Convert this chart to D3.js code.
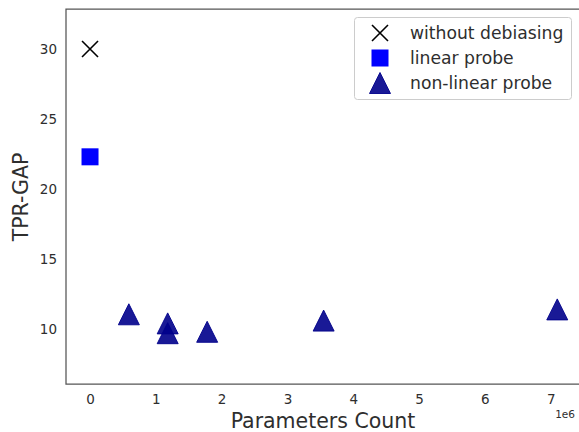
<!DOCTYPE html>
<html lang="en">
<head>
    <meta charset="UTF-8">
    <title>TPR-GAP vs Parameters Count</title>
    <style>
        body { margin: 0; padding: 0; background: #fff; }
        svg { display: block; font-family: "DejaVu Sans", sans-serif; }
    </style>
</head>
<body>
    <svg width="579" height="432"></svg>
    <script src="https://d3js.org/d3.v7.min.js"></script>
    <script>
        // data
        const baseParams = [0];
        const baseGap = [30.0];

        const linearParams = [0];
        const linearGap = [22.3];

        const mlpParams = [0.59e6, 1.18e6, 1.18e6, 1.78e6, 3.55e6, 7.1e6];
        const mlpGap = [11.05, 10.4, 9.7, 9.8, 10.6, 11.4];

        const xTicks = [0, 1e6, 2e6, 3e6, 4e6, 5e6, 6e6, 7e6];
        const yTicks = [10, 15, 20, 25, 30];

        const svg = d3.select("svg");
        const margin = { left: 66, top: 9, right: -3, bottom: 48 };
        const width = 579 - margin.left - margin.right;
        const height = 432 - margin.top - margin.bottom;

        const x = d3.scaleLinear().domain([-0.365e6, 7.476e6]).range([margin.left, margin.left + width]);
        const y = d3.scaleLinear().domain([6.07, 32.86]).range([margin.top + height, margin.top]);

        const textColor = "#2e2e2e";

        // axes (no tick marks, just labels)
        const xAxis = svg.append("g")
            .attr("transform", `translate(0,${margin.top + height})`)
            .call(d3.axisBottom(x).tickValues(xTicks).tickFormat(d => d / 1e6).tickSize(0).tickPadding(10));
        const yAxis = svg.append("g")
            .attr("transform", `translate(${margin.left},0)`)
            .call(d3.axisLeft(y).tickValues(yTicks).tickSize(0).tickPadding(9));
        [xAxis, yAxis].forEach(g => {
            g.select(".domain").remove();
            g.selectAll("text").attr("font-size", 13.5).attr("fill", textColor)
                .attr("font-family", "DejaVu Sans, sans-serif");
        });

        // frame: left, top, bottom (right spine falls outside the picture)
        const x0 = margin.left, x1 = 579, y0 = margin.top, y1 = margin.top + height;
        svg.append("path")
            .attr("d", `M${x1},${y0}H${x0}V${y1}H${x1}`)
            .attr("fill", "none").attr("stroke", "#555").attr("stroke-width", 1.25);

        // axis labels
        svg.append("text")
            .attr("x", 323).attr("y", 428)
            .attr("text-anchor", "middle").attr("font-size", 20.5).attr("fill", textColor)
            .text("Parameters Count");
        svg.append("text")
            .attr("transform", `translate(28,197) rotate(-90)`)
            .attr("text-anchor", "middle").attr("font-size", 20.5).attr("fill", textColor)
            .text("TPR-GAP");
        svg.append("text")
            .attr("x", 575).attr("y", 418)
            .attr("text-anchor", "end").attr("font-size", 10.5).attr("fill", textColor)
            .text("1e6");

        const crossPath = s => `M${-s},${-s}L${s},${s}M${-s},${s}L${s},${-s}`;
        const triPath = s => `M0,${-s}L${s},${s}L${-s},${s}Z`;

        // markers
        const plot = svg.append("g");
        plot.selectAll(".mlp").data(mlpParams).enter().append("path")
            .attr("class", "mlp")
            .attr("transform", (d, i) => `translate(${x(d)},${y(mlpGap[i])})`)
            .attr("d", triPath(10.5))
            .attr("fill", "#00008b").attr("fill-opacity", 0.9)
            .attr("stroke", "#00008b").attr("stroke-opacity", 0.9).attr("stroke-width", 1);

        plot.selectAll(".lin").data(linearParams).enter().append("rect")
            .attr("class", "lin")
            .attr("x", d => x(d) - 8.5)
            .attr("y", (d, i) => y(linearGap[i]) - 8.5)
            .attr("width", 17).attr("height", 17)
            .attr("fill", "#0000ff");

        plot.selectAll(".base").data(baseParams).enter().append("path")
            .attr("class", "base")
            .attr("transform", (d, i) => `translate(${x(d)},${y(baseGap[i])})`)
            .attr("d", crossPath(8))
            .attr("stroke", "#000").attr("stroke-width", 1.6).attr("fill", "none");

        // legend
        const legend = svg.append("g");
        legend.append("rect")
            .attr("x", 354.5).attr("y", 17.5).attr("width", 217).attr("height", 82)
            .attr("rx", 3).attr("fill", "#fff").attr("fill-opacity", 0.8)
            .attr("stroke", "#ccc").attr("stroke-width", 1);
        const items = [
            { label: "without debiasing", kind: "cross" },
            { label: "linear probe", kind: "square" },
            { label: "non-linear probe", kind: "tri" }
        ];
        items.forEach((it, i) => {
            const cy = 33 + i * 25;
            const mx = 380;
            if (it.kind === "cross") {
                legend.append("path").attr("transform", `translate(${mx},${cy})`)
                    .attr("d", crossPath(8)).attr("stroke", "#000").attr("stroke-width", 1.6);
            } else if (it.kind === "square") {
                legend.append("rect").attr("x", mx - 8.5).attr("y", cy - 8.5)
                    .attr("width", 17).attr("height", 17).attr("fill", "#0000ff");
            } else {
                legend.append("path").attr("transform", `translate(${mx},${cy})`)
                    .attr("d", triPath(10.5))
                    .attr("fill", "#00008b").attr("fill-opacity", 0.9)
                    .attr("stroke", "#00008b").attr("stroke-opacity", 0.9);
            }
            legend.append("text").attr("x", 410).attr("y", cy + 6)
                .attr("font-size", 17.2).attr("fill", textColor).text(it.label);
        });
    </script>
</body>
</html>
